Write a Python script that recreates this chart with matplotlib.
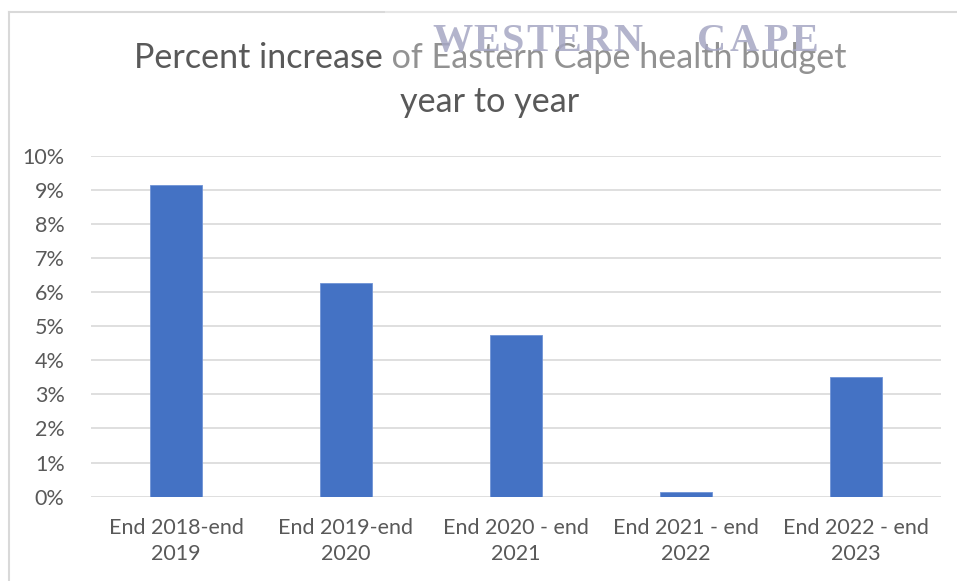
import matplotlib.pyplot as plt
from matplotlib.patches import Rectangle
from matplotlib.lines import Line2D
from matplotlib.ticker import PercentFormatter

# 数据
categories = ['End 2018-end\n2019', 'End 2019-end\n2020', 'End 2020 - end\n2021',
              'End 2021 - end\n2022', 'End 2022 - end\n2023']
increase = [0.0915, 0.0627, 0.0475, 0.0013, 0.0350]
y_ticks = [i / 100 for i in range(0, 11)]

plt.rcParams['font.family'] = ['Lato', 'DejaVu Sans']
text_col = '#595959'
grid_col = '#D9D9D9'

fig = plt.figure(figsize=(9.57, 5.81), dpi=100)
ax = fig.add_axes([91 / 957, 1 - 496.7 / 581, 850 / 957, 341 / 581])

x = range(len(categories))
ax.bar(x, increase, width=0.31, color='#4472C4', edgecolor='#6F93D6', linewidth=0.6, zorder=3)

ax.set_xlim(-0.5, len(categories) - 0.5)
ax.set_ylim(0, 0.10)
ax.set_yticks(y_ticks)
ax.yaxis.set_major_formatter(PercentFormatter(1.0, decimals=0))
ax.set_xticks(list(x))
ax.set_xticklabels(categories, fontsize=15.5, color=text_col, linespacing=1.4)
ax.tick_params(axis='y', labelsize=15.5, labelcolor=text_col, length=0, pad=19)
ax.tick_params(axis='x', length=0, pad=15)
ax.grid(axis='y', color=grid_col, linewidth=1.2, zorder=0)
for s in ax.spines.values():
    s.set_visible(False)

# 标题
fig.text(490 / 957, 1 - 68 / 581, 'Percent increase of Eastern Cape health budget',
         ha='center', va='baseline', fontsize=24.6, color=text_col)
fig.text(490 / 957, 1 - 112 / 581, 'year to year',
         ha='center', va='baseline', fontsize=24.6, color=text_col)

# 外框
fig.add_artist(Line2D([9 / 957, 1], [1 - 12 / 581] * 2, color=grid_col, linewidth=1.5))
fig.add_artist(Line2D([9 / 957] * 2, [0, 1 - 12 / 581], color=grid_col, linewidth=1.5))

# 水印 (字母间距手动排)
fig.add_artist(Rectangle((385 / 957, 1 - 80 / 581), 465 / 957, 80 / 581,
                         transform=fig.transFigure, facecolor='white', alpha=0.35,
                         edgecolor='none', zorder=5))
wm = dict(ha='left', va='baseline', fontsize=29, fontweight='bold', family='Liberation Serif',
          color='#A6A7C4', alpha=0.85, zorder=6)
renderer = fig.canvas.get_renderer()
for word, x0, gap in [('WESTERN', 432, 1.5), ('CAPE', 697, 4)]:
    px = x0
    for ch in word:
        t = fig.text(px / 957, 1 - 51 / 581, ch, **wm)
        px = t.get_window_extent(renderer).x1 + gap

fig.savefig('out.png', dpi=100)
